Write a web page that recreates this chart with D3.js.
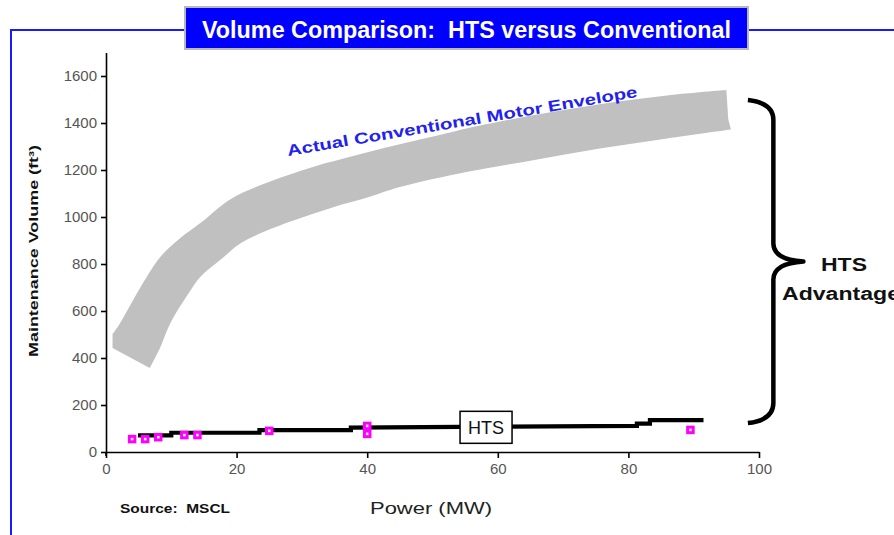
<!DOCTYPE html>
<html>
<head>
<meta charset="utf-8">
<script src="https://cdn.jsdelivr.net/npm/d3@7/dist/d3.min.js"></script>
<style>
  html, body { margin: 0; padding: 0; background: #ffffff; }
  svg { display: block; }
  text { white-space: pre; }
</style>
</head>
<body>
<script>
// ---------- data ----------
const titleText = "Volume Comparison:  HTS versus Conventional";
const xTicks = [0, 20, 40, 60, 80, 100];
const yTicks = [0, 200, 400, 600, 800, 1000, 1200, 1400, 1600];

// conventional motor envelope: upper edge (left->right), lower edge (right->left)
const envelopeUpper = [[1.0, 502], [2.1, 546], [4.1, 644], [6.2, 744], [8.5, 836], [11.3, 909],
  [14.4, 973], [19.0, 1075], [23.6, 1135], [27.7, 1177], [32.3, 1218], [37.4, 1256],
  [42.4, 1293], [47.6, 1327], [52.7, 1360], [55.2, 1377], [65.4, 1433], [75.6, 1480],
  [85.9, 1517], [95.0, 1540]];
const envelopeRight = [[95.0, 1540], [95.3, 1415], [95.7, 1372]];
const envelopeLower = [[95.7, 1372], [85.9, 1334], [75.6, 1291], [65.4, 1241],
  [55.2, 1192], [45.0, 1128], [40.0, 1083], [34.8, 1042], [28.7, 985], [24.1, 936],
  [20.5, 886], [18.0, 829], [14.4, 744], [12.6, 673], [9.8, 545], [8.3, 445], [6.7, 357]];
const envelopeLeft = [[6.7, 357], [1.0, 443], [1.0, 502]];

// HTS step line
const htsX = [4.9, 10, 10, 23.5, 23.5, 37.5, 37.5, 60, 81.3, 81.3, 83.3, 83.3, 91.5];
const htsY = [71, 71, 82, 82, 93, 93, 104, 108, 111, 121, 121, 136, 136];

// HTS data points (magenta squares)
const markerX = [4, 6, 8, 12, 14, 25, 40, 40, 89.5];
const markerY = [55, 55, 63, 72, 72, 90, 111, 77, 94];

// ---------- layout ----------
const W = 894, H = 535;
const svg = d3.select("body").append("svg").attr("width", W).attr("height", H);

const x = d3.scaleLinear().domain([0, 100]).range([106, 759]);
const y = d3.scaleLinear().domain([0, 1700]).range([452, 52.5]);

// blue frame
const frameBlue = "#1a1aff";
svg.append("path")
  .attr("d", "M11,535 L11,30 L186,30 M747,30 L894,30")
  .attr("fill", "none").attr("stroke", frameBlue).attr("stroke-width", 2);

// title box
svg.append("rect").attr("x", 185).attr("y", 7).attr("width", 563).attr("height", 42)
  .attr("fill", "#0000ff").attr("stroke", "#b8b8b8").attr("stroke-width", 2);
svg.append("text").attr("x", 202).attr("y", 38)
  .attr("font-family", "Liberation Sans Narrow, Liberation Sans, Arial, sans-serif").attr("font-weight", "bold")
  .attr("font-size", 24).attr("fill", "#ffffff")
  .attr("textLength", 529).attr("lengthAdjust", "spacingAndGlyphs")
  .text(titleText);

// envelope band (smooth edges, straight ends)
const edge = d3.line().x(d => x(d[0])).y(d => y(d[1])).curve(d3.curveCatmullRom.alpha(0.5));
const straight = d3.line().x(d => x(d[0])).y(d => y(d[1]));
const bandD = edge(envelopeUpper)
  + straight(envelopeRight).replace(/^M/, "L")
  + edge(envelopeLower).replace(/^M/, "L")
  + straight(envelopeLeft).replace(/^M/, "L") + "Z";
svg.append("path").attr("d", bandD).attr("fill", "#c0c0c0");

// envelope label
svg.append("text")
  .attr("transform", `translate(288,156) rotate(-9.6)`)
  .attr("font-family", "Liberation Sans, Arial, sans-serif").attr("font-weight", "bold")
  .attr("font-size", 15.5).attr("fill", "#2222ee")
  .attr("textLength", 355).attr("lengthAdjust", "spacingAndGlyphs")
  .text("Actual Conventional Motor Envelope");

// axes
const axisFont = "Liberation Sans, Arial, sans-serif";
const yAxis = svg.append("g").attr("transform", `translate(${x(0)},0)`)
  .call(d3.axisLeft(y).tickValues(yTicks).tickSize(5).tickSizeOuter(0).tickPadding(4).tickFormat(d3.format("d")));
const xAxis = svg.append("g").attr("transform", `translate(0,${y(0)})`)
  .call(d3.axisBottom(x).tickValues(xTicks).tickSize(6).tickSizeOuter(0).tickPadding(5).tickFormat(d3.format("d")));
[xAxis, yAxis].forEach(g => {
  g.select(".domain").attr("stroke", "#000").attr("stroke-width", 1.6);
  g.selectAll(".tick line").attr("stroke", "#000").attr("stroke-width", 1.6);
  g.selectAll(".tick text").attr("font-family", axisFont).attr("font-size", 15)
    .attr("fill", "#555");
});
svg.append("line").attr("x1", x(0)).attr("x2", x(0)).attr("y1", y(0)).attr("y2", y(0) + 4)
  .attr("stroke", "#000").attr("stroke-width", 1.6);

// HTS line
const htsPts = htsX.map((v, i) => [v, htsY[i]]);
svg.append("path")
  .attr("d", d3.line().x(d => x(d[0])).y(d => y(d[1]))(htsPts))
  .attr("fill", "none").attr("stroke", "#000").attr("stroke-width", 4.2);

// markers
const mPts = markerX.map((v, i) => [v, markerY[i]]);
svg.append("g").selectAll("rect").data(mPts).join("rect")
  .attr("x", d => x(d[0]) - 2.75).attr("y", d => y(d[1]) - 2.75)
  .attr("width", 5.5).attr("height", 5.5)
  .attr("fill", "#ffffff").attr("stroke", "#ff00ff").attr("stroke-width", 3);

// HTS label box
const hx = x(58.2), hy = y(105);
svg.append("rect").attr("x", hx - 26).attr("y", hy - 16).attr("width", 52).attr("height", 32)
  .attr("fill", "#fff").attr("stroke", "#000").attr("stroke-width", 1.5);
svg.append("text").attr("x", hx).attr("y", hy + 6.5).attr("text-anchor", "middle")
  .attr("font-family", axisFont).attr("font-size", 18).attr("fill", "#111")
  .text("HTS");

// brace
const bxL = x(98.3), bxS = x(102.2), bxT = x(106.8);
const byT = y(1498), byB = y(123), byM = (byT + byB) / 2;
svg.append("path")
  .attr("d", `M${bxL},${byT} Q${bxS},${byT + 3} ${bxS},${byT + 20} L${bxS},${byM - 18} Q${bxS},${byM - 2} ${bxT},${byM} ` +
    `Q${bxS},${byM + 2} ${bxS},${byM + 18} L${bxS},${byB - 20} Q${bxS},${byB - 3} ${bxL},${byB}`)
  .attr("fill", "none").attr("stroke", "#000").attr("stroke-width", 4.5).attr("stroke-linejoin", "round");

// HTS Advantage
svg.append("text").attr("x", 821).attr("y", 271)
  .attr("font-family", axisFont).attr("font-weight", "bold").attr("font-size", 18).attr("fill", "#111")
  .attr("textLength", 46).attr("lengthAdjust", "spacingAndGlyphs").text("HTS");
svg.append("text").attr("x", 782).attr("y", 300)
  .attr("font-family", axisFont).attr("font-weight", "bold").attr("font-size", 18).attr("fill", "#111")
  .attr("textLength", 118).attr("lengthAdjust", "spacingAndGlyphs").text("Advantage");

// y axis title
svg.append("text").attr("transform", `translate(38,251) rotate(-90)`)
  .attr("text-anchor", "middle")
  .attr("font-family", axisFont).attr("font-weight", "bold").attr("font-size", 13).attr("fill", "#111")
  .attr("textLength", 212).attr("lengthAdjust", "spacingAndGlyphs")
  .text("Maintenance Volume (ft³)");

// x axis title
svg.append("text").attr("x", 370).attr("y", 514)
  .attr("font-family", axisFont).attr("font-size", 17).attr("fill", "#222")
  .attr("textLength", 122).attr("lengthAdjust", "spacingAndGlyphs")
  .text("Power (MW)");

// source
svg.append("text").attr("x", 120).attr("y", 513)
  .attr("font-family", axisFont).attr("font-weight", "bold").attr("font-size", 12).attr("fill", "#111")
  .attr("textLength", 110).attr("lengthAdjust", "spacingAndGlyphs")
  .text("Source:  MSCL");
</script>
</body>
</html>
